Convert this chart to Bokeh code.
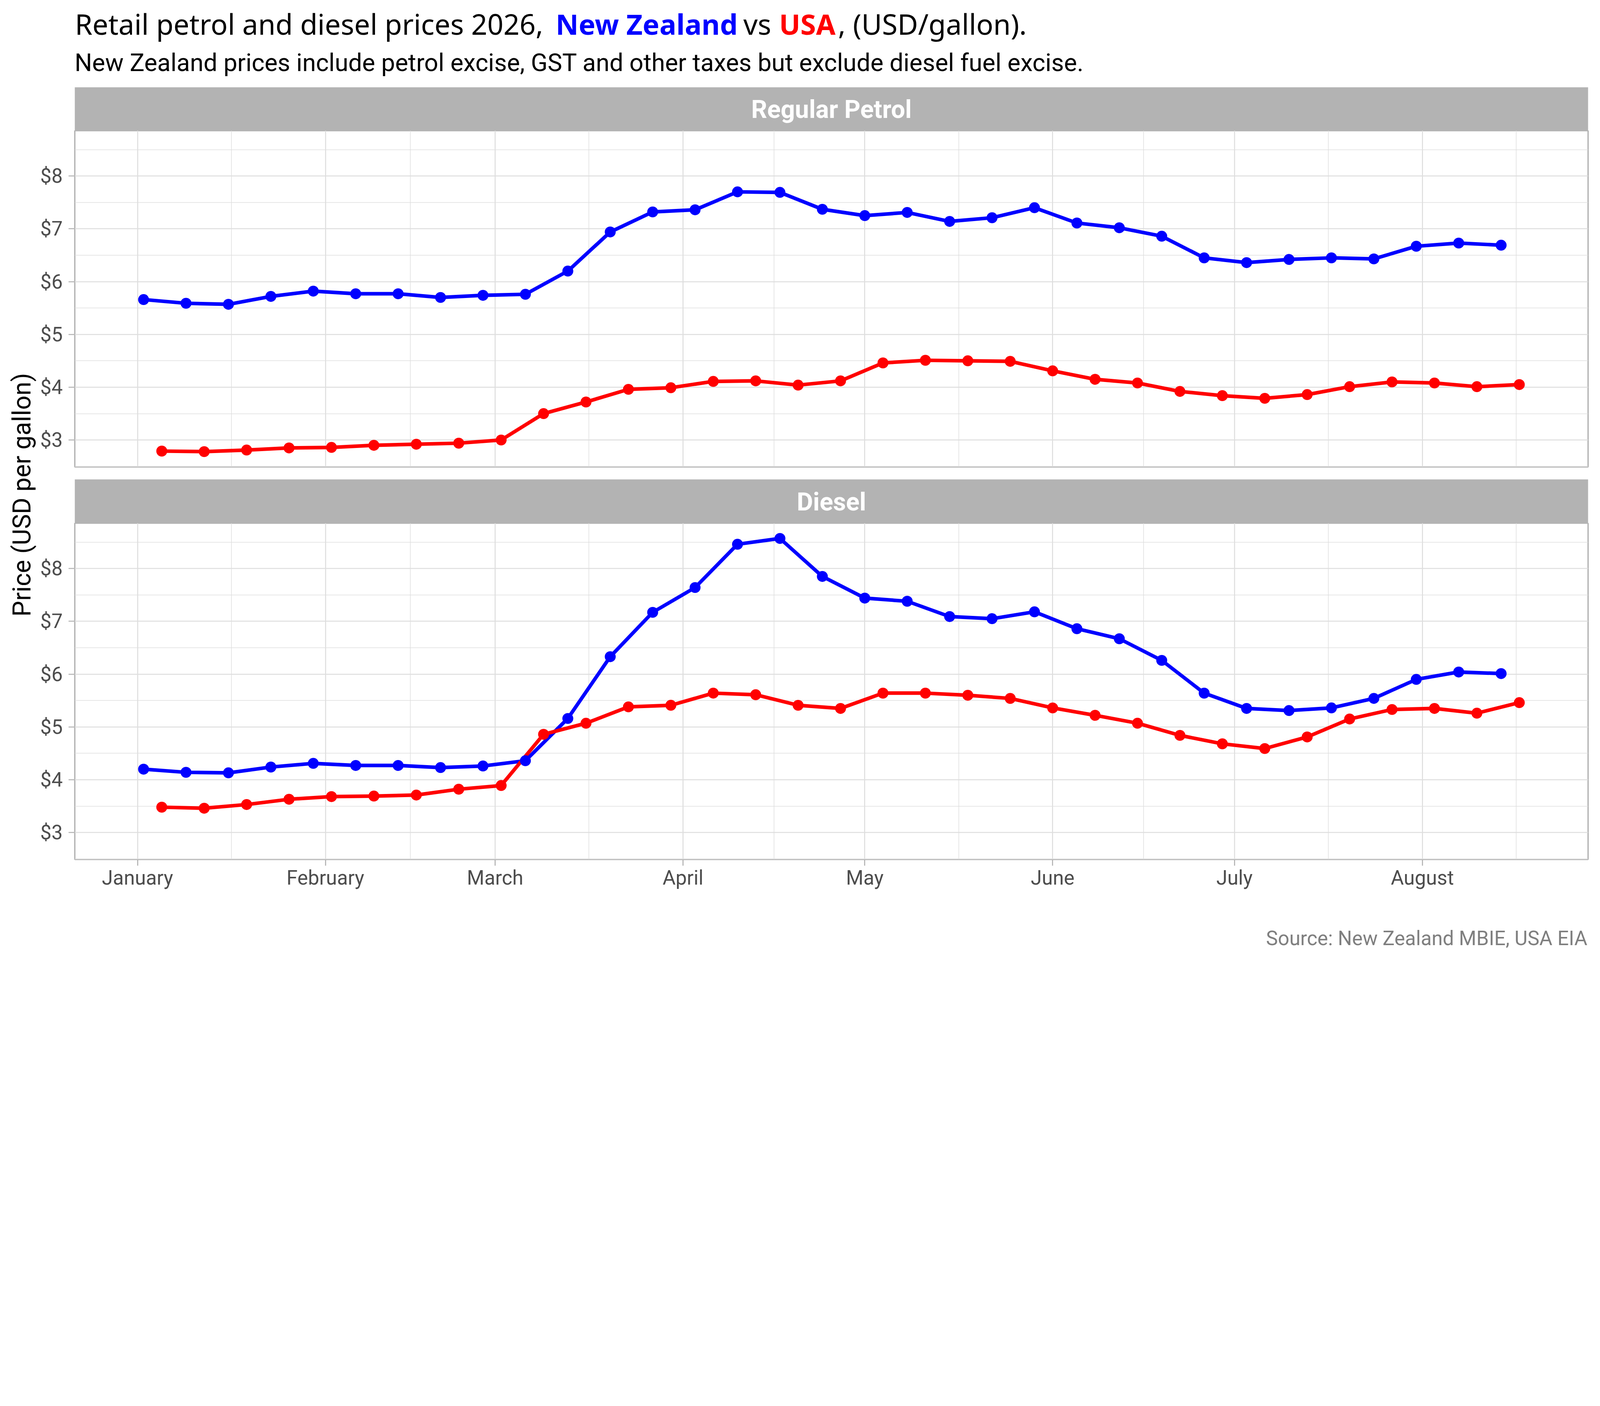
import pandas as pd
from math import pi
from bokeh.plotting import figure
from bokeh.layouts import column, row
from bokeh.models import Range1d, FixedTicker, DatetimeTickFormatter
from bokeh.core.properties import value
from bokeh.embed import file_html
from bokeh.resources import INLINE

# ---------------- data ----------------
nz_dates = pd.date_range("2026-01-02", periods=33, freq="7D")
usa_dates = pd.date_range("2026-01-05", periods=33, freq="7D")

nz_petrol = [5.66, 5.59, 5.57, 5.72, 5.82, 5.77, 5.77, 5.70, 5.74, 5.76, 6.20,
             6.94, 7.32, 7.36, 7.70, 7.69, 7.37, 7.25, 7.31, 7.14, 7.21, 7.40,
             7.11, 7.02, 6.86, 6.45, 6.36, 6.42, 6.45, 6.43, 6.67, 6.73, 6.69]
usa_petrol = [2.79, 2.78, 2.81, 2.85, 2.86, 2.90, 2.92, 2.94, 3.00, 3.50, 3.72,
              3.96, 3.99, 4.11, 4.12, 4.04, 4.12, 4.46, 4.51, 4.50, 4.49, 4.31,
              4.15, 4.08, 3.92, 3.84, 3.79, 3.86, 4.01, 4.10, 4.08, 4.01, 4.05]
nz_diesel = [4.20, 4.14, 4.13, 4.24, 4.31, 4.27, 4.27, 4.23, 4.26, 4.36, 5.16,
             6.33, 7.17, 7.64, 8.46, 8.57, 7.85, 7.44, 7.38, 7.09, 7.05, 7.18,
             6.86, 6.67, 6.26, 5.64, 5.35, 5.31, 5.36, 5.54, 5.90, 6.04, 6.01]
usa_diesel = [3.48, 3.46, 3.53, 3.63, 3.68, 3.69, 3.71, 3.82, 3.89, 4.86, 5.07,
              5.38, 5.41, 5.64, 5.61, 5.41, 5.35, 5.64, 5.64, 5.60, 5.54, 5.36,
              5.22, 5.07, 4.84, 4.68, 4.59, 4.81, 5.15, 5.33, 5.35, 5.26, 5.46]

month_breaks = ["2026-01-01", "2026-02-01", "2026-03-01", "2026-04-01",
                "2026-05-01", "2026-06-01", "2026-07-01", "2026-08-01", "2026-09-01"]
month_labels = ["January", "February", "March", "April", "May", "June", "July", "August"]
y_ticks = [3, 4, 5, 6, 7, 8]
y_tick_labels = ["$3", "$4", "$5", "$6", "$7", "$8"]
panel_labels = ["Regular Petrol", "Diesel"]

title_parts = ["Retail petrol and diesel prices 2026,", "New Zealand", "vs", "USA", ", (USD/gallon)."]
subtitle = "New Zealand prices include petrol excise, GST and other taxes but exclude diesel fuel excise."
y_title = "Price (USD per gallon)"
source_text = "Source: New Zealand MBIE, USA EIA"

NZ_COLOR = "#0000FF"
USA_COLOR = "#FF0000"

# ---------------- scales ----------------
def ms(ts):
    return pd.Timestamp(ts).value / 1e6

mb = [ms(d) for d in month_breaks]
major_x = mb[:len(month_labels)]
minor_x = [(a + b) / 2 for a, b in zip(mb[:-1], mb[1:])]

all_dates = list(nz_dates) + list(usa_dates)
x0, x1 = ms(min(all_dates)), ms(max(all_dates))
xpad = 0.05 * (x1 - x0)
xr = Range1d(x0 - xpad, x1 + xpad)

all_vals = nz_petrol + usa_petrol + nz_diesel + usa_diesel
y0, y1 = min(all_vals), max(all_vals)
ypad = 0.05 * (y1 - y0)
yr = Range1d(y0 - ypad, y1 + ypad)
minor_y = [t + 0.5 for t in [2] + y_ticks]

# ---------------- layout constants (CSS px; S = device px per CSS px) ----------------
S = 6000 / 4096
K = 1 / S
def px(v):
    return f"{v * K:.2f}px"

ORIGIN = 0
W = 4088
YT_W = 95
PW = W - YT_W
BL = 96
BR = 23
HDR_H = 223
STRIP_H = [111, 112]
FRAME_H = 861
GAP_H = 32
XAX_H = 100
FTR_H = 140
GRID = "#dedede"
BORDER = "#b3b3b3"
AXTXT = "#4d4d4d"

def base(fig):
    fig.outline_line_color = None
    fig.xgrid.visible = False
    fig.ygrid.visible = False
    fig.border_fill_color = "white"
    return fig

def blank(width, height, top_css, left_css=ORIGIN):
    f = figure(width=width, height=height,
               x_range=Range1d(left_css * S, (left_css + width) * S),
               y_range=Range1d((top_css + height) * S, top_css * S),
               min_border=0, x_axis_location=None, y_axis_location=None,
               toolbar_location=None, output_backend="svg")
    return base(f)

TITLE_FS = 105.7
SUB_FS = 92.2
STRIP_FS = 93.75
AX_FS = 75
YT_FS = 93.75
SRC_FS = 75
def shift_noto(fs):
    return 1.2 * 0.293 * fs
def shift_roboto(fs):
    return 1.2 * 0.244 * fs

# header (coordinates in device px of the reference)
hdr = blank(W, HDR_H, ORIGIN)
title_x = [280, 2083, 2787, 2921, 3142]
title_col = ["black", NZ_COLOR, "black", USA_COLOR, "black"]
title_sty = ["normal", "bold", "normal", "bold", "normal"]
for t, xx, c, s in zip(title_parts, title_x, title_col, title_sty):
    hdr.text(x=[xx], y=[126 - shift_noto(TITLE_FS)], text=[t], text_align="left",
             text_baseline="alphabetic", text_color=c, text_font=value("Noto Sans"),
             text_font_style=s, text_font_size=px(TITLE_FS))
hdr.text(x=[279], y=[261 - shift_roboto(SUB_FS)], text=[subtitle], text_align="left",
         text_baseline="alphabetic", text_color="black", text_font=value("Roboto"),
         text_font_size=px(SUB_FS))

def strip(label, h):
    hd = h * S
    s = figure(width=PW, height=h, x_range=Range1d(0, 1), y_range=Range1d(hd, 0),
               min_border_left=BL, min_border_right=BR, min_border_top=0, min_border_bottom=0,
               x_axis_location=None, y_axis_location=None,
               toolbar_location=None, output_backend="svg")
    base(s)
    s.background_fill_color = BORDER
    s.text(x=[0.5], y=[hd - 52 - shift_roboto(STRIP_FS)], text=[label], text_align="center",
           text_baseline="alphabetic", text_color="white", text_font=value("Roboto"),
           text_font_style="bold", text_font_size=px(STRIP_FS))
    return s

def panel(nz_vals, usa_vals, show_x):
    bottom = XAX_H if show_x else GAP_H
    p = figure(width=PW, height=FRAME_H + bottom, x_axis_type="datetime",
               x_range=xr, y_range=yr,
               x_axis_location="below" if show_x else None,
               min_border_left=BL, min_border_right=BR, min_border_top=0,
               min_border_bottom=bottom, toolbar_location=None, output_backend="svg")
    p.border_fill_color = "white"
    p.background_fill_color = "white"
    p.outline_line_color = BORDER
    p.outline_line_width = 5 * K
    xt = FixedTicker(ticks=major_x, minor_ticks=minor_x)
    yt = FixedTicker(ticks=y_ticks, minor_ticks=minor_y)
    p.xgrid.ticker = xt
    p.ygrid.ticker = yt
    for g in (p.xgrid, p.ygrid):
        g.grid_line_color = GRID
        g.grid_line_width = 3.8 * K
        g.minor_grid_line_color = GRID
        g.minor_grid_line_width = 2.2 * K
    p.yaxis.ticker = yt
    p.yaxis.major_label_overrides = {t: l for t, l in zip(y_ticks, y_tick_labels)}
    axes = [p.yaxis[0]]
    if show_x:
        p.xaxis.ticker = xt
        p.xaxis.formatter = DatetimeTickFormatter(days="%B", months="%B", years="%B")
        p.xaxis.major_label_overrides = {t: l for t, l in zip(major_x, month_labels)}
        p.xaxis.major_label_standoff = 0
        axes.append(p.xaxis[0])
    p.yaxis.major_label_standoff = round(22 * K)
    for ax in axes:
        ax.axis_line_color = None
        ax.major_tick_line_color = BORDER
        ax.major_tick_line_width = 4 * K
        ax.major_tick_out = round(24 * K)
        ax.major_tick_in = 0
        ax.minor_tick_line_color = None
        ax.major_label_text_font = "Roboto"
        ax.major_label_text_font_size = px(AX_FS)
        ax.major_label_text_color = AXTXT
    p.line(nz_dates, nz_vals, line_color=NZ_COLOR, line_width=13.5 * K, line_join="round")
    p.line(usa_dates, usa_vals, line_color=USA_COLOR, line_width=13.5 * K, line_join="round")
    p.scatter(nz_dates, nz_vals, size=41 * K, fill_color=NZ_COLOR, line_color=None)
    p.scatter(usa_dates, usa_vals, size=41 * K, fill_color=USA_COLOR, line_color=None)
    return p

s1 = strip(panel_labels[0], STRIP_H[0])
p1 = panel(nz_petrol, usa_petrol, False)
s2 = strip(panel_labels[1], STRIP_H[1])
p2 = panel(nz_diesel, usa_diesel, True)

top_mid = ORIGIN + HDR_H
mid_h = STRIP_H[0] + STRIP_H[1] + (FRAME_H + GAP_H) + (FRAME_H + XAX_H)
yt_fig = blank(YT_W, mid_h, top_mid)
yt_fig.text(x=[110 - shift_roboto(YT_FS)], y=[1855], text=[y_title], angle=pi / 2,
            text_align="center", text_baseline="alphabetic", text_color="black",
            text_font=value("Roboto"), text_font_size=px(YT_FS))

ftr = blank(W, FTR_H, top_mid + mid_h)
ftr.text(x=[5952], y=[3540 - shift_roboto(SRC_FS)], text=[source_text], text_align="right",
         text_baseline="alphabetic", text_color="#7f7f7f", text_font=value("Roboto"),
         text_font_size=px(SRC_FS))

layout = column(hdr, row(yt_fig, column(s1, p1, s2, p2)), ftr)
open("out.html", "w").write(file_html(layout, INLINE))
